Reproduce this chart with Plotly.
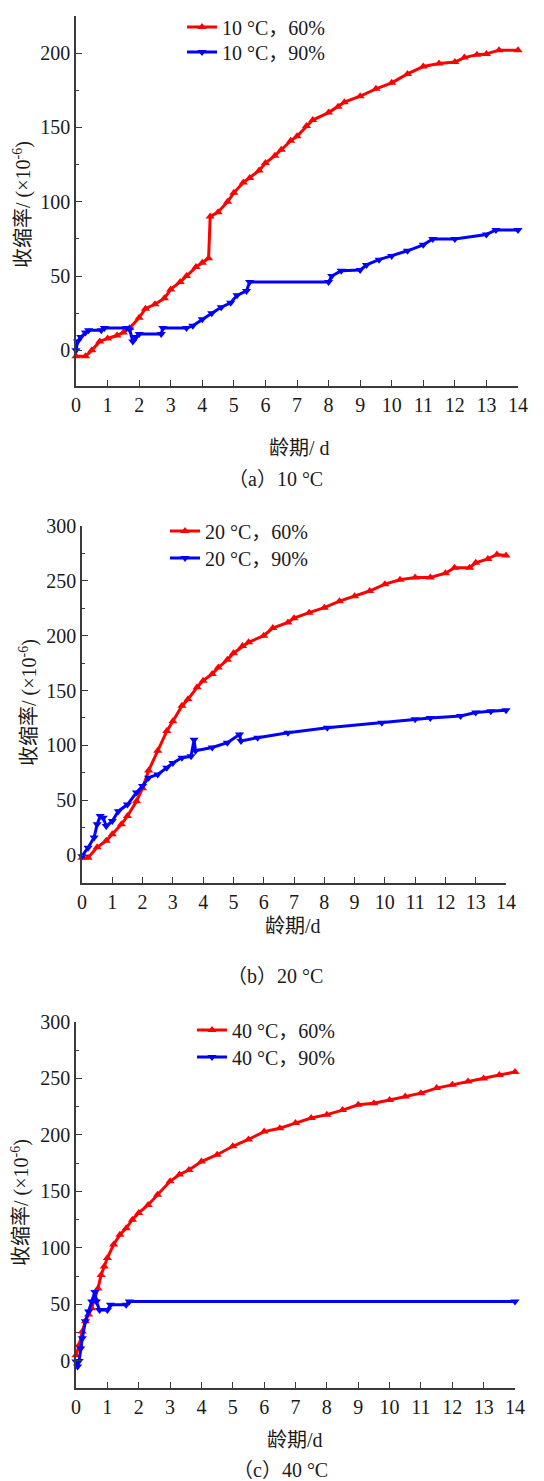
import plotly.graph_objects as go

# ---------------- Data ----------------
# (a) 10 °C
a_x60 = [0, 0.3, 0.5, 0.75, 1.0, 1.3, 1.5, 1.7, 2.0, 2.2, 2.5, 2.8, 3.0, 3.3, 3.5, 3.8, 4.0, 4.2, 4.25,
         4.5, 4.8, 5.0, 5.3, 5.5, 5.8, 6.0, 6.3, 6.5, 6.8, 7.0, 7.3, 7.5, 8.0, 8.3, 8.5, 9.0, 9.5, 10.0,
         10.5, 11.0, 11.5, 12.0, 12.3, 12.7, 13.0, 13.4, 14.0]
a_y60 = [-4, -4, 0, 6, 8, 10, 12, 15, 22, 28, 31, 35, 41, 46, 50, 56, 59, 62, 90,
         93, 100, 106, 113, 116, 121, 126, 131, 135, 141, 144, 151, 155, 160, 164, 167, 171, 176, 180,
         186, 191, 193, 194, 197, 199, 199.5, 202, 202]
a_x90 = [0, 0.05, 0.15, 0.3, 0.4, 0.8, 0.9, 1.6, 1.7, 1.8, 1.9, 2.0, 2.7, 2.75, 3.5, 3.7, 4.0, 4.3,
         4.6, 4.9, 5.1, 5.4, 5.5, 8.0, 8.1, 8.4, 9.0, 9.2, 9.6, 10.0, 10.5, 11.0, 11.3, 12.0, 13.0,
         13.3, 14.0]
a_y90 = [0, 6, 9, 12, 13.5, 13.5, 15, 15, 14, 6, 9, 11, 11, 15, 15, 16.5, 21, 25,
         29, 32, 37, 40, 46, 46, 50, 53.5, 54, 57.5, 61, 63.5, 67, 71, 75, 75, 78,
         81, 81]

# (b) 20 °C
b_x60 = [0, 0.2, 0.5, 0.8, 1.0, 1.3, 1.5, 1.8, 2.0, 2.2, 2.5, 2.8, 3.0, 3.3, 3.5, 3.8, 4.0, 4.3,
         4.5, 4.8, 5.0, 5.3, 5.5, 6.0, 6.3, 6.8, 7.0, 7.5, 8.0, 8.5, 9.0, 9.5, 10.0, 10.5, 11.0,
         11.5, 12.0, 12.3, 12.8, 13.0, 13.4, 13.7, 14.0]
b_y60 = [-2.5, -2.5, 7, 13, 19, 28, 35.5, 49, 61, 77, 95, 113, 122, 136, 142, 153, 159, 165,
         171, 178, 184, 190.5, 194, 200, 207, 212, 216, 221, 225.5, 231.5, 236, 240.7, 247, 251, 253,
         253, 257, 262, 262, 266.5, 270, 274, 273]
b_x90 = [0, 0.2, 0.4, 0.5, 0.6, 0.7, 0.8, 1.0, 1.2, 1.5, 1.8, 2.0, 2.2, 2.5, 2.8, 3.0, 3.3, 3.6,
         3.7, 3.75, 4.3, 4.8, 5.2, 5.25, 5.8, 6.8, 8.1, 9.9, 11.0, 11.5, 12.5, 13.0, 13.5, 14.0]
b_y90 = [-1, 6.7, 16, 28, 35.5, 34, 26.4, 31, 40, 46, 57, 63, 70.5, 73.5, 79.6, 84, 88.7, 90,
         105, 95, 98, 102.4, 110, 104, 107, 111.5, 116, 120.7, 123.7, 125, 126.7, 130, 131, 132]

# (c) 40 °C
c_x60 = [0, 0.1, 0.2, 0.3, 0.4, 0.5, 0.6, 0.7, 0.8, 0.9, 1.0, 1.2, 1.4, 1.6, 1.8, 2.0, 2.3, 2.6,
         3.0, 3.3, 3.6, 4.0, 4.5, 5.0, 5.5, 6.0, 6.5, 7.0, 7.5, 8.0, 8.5, 9.0, 9.5, 10.0, 10.5,
         11.0, 11.5, 12.0, 12.5, 13.0, 13.5, 14.0]
c_y60 = [5, 14, 26, 35, 41, 46.6, 55.5, 64, 76, 83.6, 91, 103, 111.6, 117.5, 125, 131, 138, 147,
         159, 165, 169, 176.5, 182.5, 190, 196, 203, 206, 210.5, 215, 218, 222, 226.7, 228, 231, 234,
         237, 241.5, 244.5, 247.4, 250, 253, 255.7]
c_x90 = [0, 0.05, 0.1, 0.15, 0.2, 0.3, 0.4, 0.5, 0.6, 0.65, 0.75, 1.0, 1.1, 1.6, 1.7, 14.0]
c_y90 = [-0.6, -5, 0, 11, 20, 35, 43.7, 52.5, 61, 52.5, 45, 45, 49.6, 49.6, 52.5, 52.5]

names = [("10 °C，60%", "10 °C，90%"), ("20 °C，60%", "20 °C，90%"), ("40 °C，60%", "40 °C，90%")]
x_ticks = list(range(0, 15))

FONT = "'Liberation Serif', 'Times New Roman', 'Noto Sans CJK SC', serif"
RED = "#ff0000"
BLUE = "#0000ff"
AX = "#3a3a3a"
TXT = "#1a1a1a"
FS = 20

W, H = 544, 1481


def px(v):
    return v / W


def py(v):
    return 1 - v / H


fig = go.Figure()

panels = [
    (a_x60, a_y60, a_x90, a_y90),
    (b_x60, b_y60, b_x90, b_y90),
    (c_x60, c_y60, c_x90, c_y90),
]
for i, (x60, y60, x90, y90) in enumerate(panels):
    sfx = "" if i == 0 else str(i + 1)
    l1 = "legend" if i == 0 else "legend" + str(2 * i + 1)
    l2 = "legend" + str(2 * i + 2)
    fig.add_trace(go.Scatter(
        x=x60, y=y60, mode="lines+markers", name=names[i][0],
        line=dict(color=RED, width=3),
        marker=dict(symbol="triangle-up", size=8, color=RED),
        xaxis="x" + sfx, yaxis="y" + sfx, legend=l1, cliponaxis=False))
    fig.add_trace(go.Scatter(
        x=x90, y=y90, mode="lines+markers", name=names[i][1],
        line=dict(color=BLUE, width=3),
        marker=dict(symbol="triangle-down", size=8, color=BLUE),
        xaxis="x" + sfx, yaxis="y" + sfx, legend=l2, cliponaxis=False))


def xax(dom, anchor):
    return dict(domain=dom, anchor=anchor, range=[0, 14], tickmode="array",
                tickvals=x_ticks, ticks="inside", ticklen=6, tickwidth=1.3, tickcolor=AX,
                showline=True, linecolor=AX, linewidth=1.5, showgrid=False, zeroline=False,
                tickfont=dict(size=FS, color=TXT, family=FONT), fixedrange=True)


def yax(dom, anchor, rng, tvals):
    return dict(domain=dom, anchor=anchor, range=rng, tickmode="array", tickvals=tvals,
                ticks="inside", ticklen=6, tickwidth=1.3, tickcolor=AX,
                minor=dict(ticks="inside", dtick=25, ticklen=3, tickwidth=1.2, tickcolor=AX,
                           tick0=0),
                showline=True, linecolor=AX, linewidth=1.5, showgrid=False, zeroline=False,
                tickfont=dict(size=FS, color=TXT, family=FONT), fixedrange=True)


legend_common = dict(font=dict(size=FS, family=FONT, color=TXT), bgcolor="rgba(0,0,0,0)",
                     xanchor="left", yanchor="middle", tracegroupgap=0, itemwidth=30)

# legend rows: (left x px, row centre y px)
leg_pos = [(174, 19), (174, 44), (157, 523), (157, 550), (184, 1022), (184, 1049)]
leg_layout = {}
for k, (lx, ly) in enumerate(leg_pos):
    key = "legend" if k == 0 else "legend" + str(k + 1)
    leg_layout[key] = dict(x=px(lx), y=py(ly), **legend_common)

fig.update_layout(
    width=W, height=H,
    margin=dict(l=0, r=0, t=0, b=0, pad=0, autoexpand=False),
    paper_bgcolor="white", plot_bgcolor="white",
    font=dict(family=FONT, size=FS, color=TXT),
    xaxis=xax([px(68), px(510)], "y"),
    yaxis=yax([py(378), py(8)], "x", [-24, 225], [0, 50, 100, 150, 200]),
    xaxis2=xax([px(74), px(498)], "y2"),
    yaxis2=yax([py(875), py(518)], "x2", [-25.5, 300], [0, 50, 100, 150, 200, 250, 300]),
    xaxis3=xax([px(68), px(507)], "y3"),
    yaxis3=yax([py(1380), py(1014)], "x3", [-24, 300], [0, 50, 100, 150, 200, 250, 300]),
    showlegend=True,
    **leg_layout,
)

ann = []
ytitle = "收缩率/ (×10<sup>-6</sup>)"
for (xt, yt, txt) in [(291, 440, "龄期/ d"), (285, 918, "龄期/d"), (287, 1432, "龄期/d")]:
    ann.append(dict(x=px(xt), y=py(yt), text=txt, showarrow=False, xref="paper", yref="paper",
                    xanchor="center", yanchor="middle", font=dict(size=FS)))
for (xt, yt) in [(15, 197), (20, 695), (12, 1195)]:
    ann.append(dict(x=px(xt), y=py(yt), text=ytitle, showarrow=False, xref="paper", yref="paper",
                    xanchor="center", yanchor="middle", textangle=-90, font=dict(size=FS)))
for (xt, yt, txt) in [(267, 471, "（a）10 °C"), (267, 968, "（b）20 °C"), (272, 1462, "（c）40 °C")]:
    ann.append(dict(x=px(xt), y=py(yt), text=txt, showarrow=False, xref="paper", yref="paper",
                    xanchor="center", yanchor="middle", font=dict(size=FS)))
fig.update_layout(annotations=ann)

fig.write_html("out.html")
